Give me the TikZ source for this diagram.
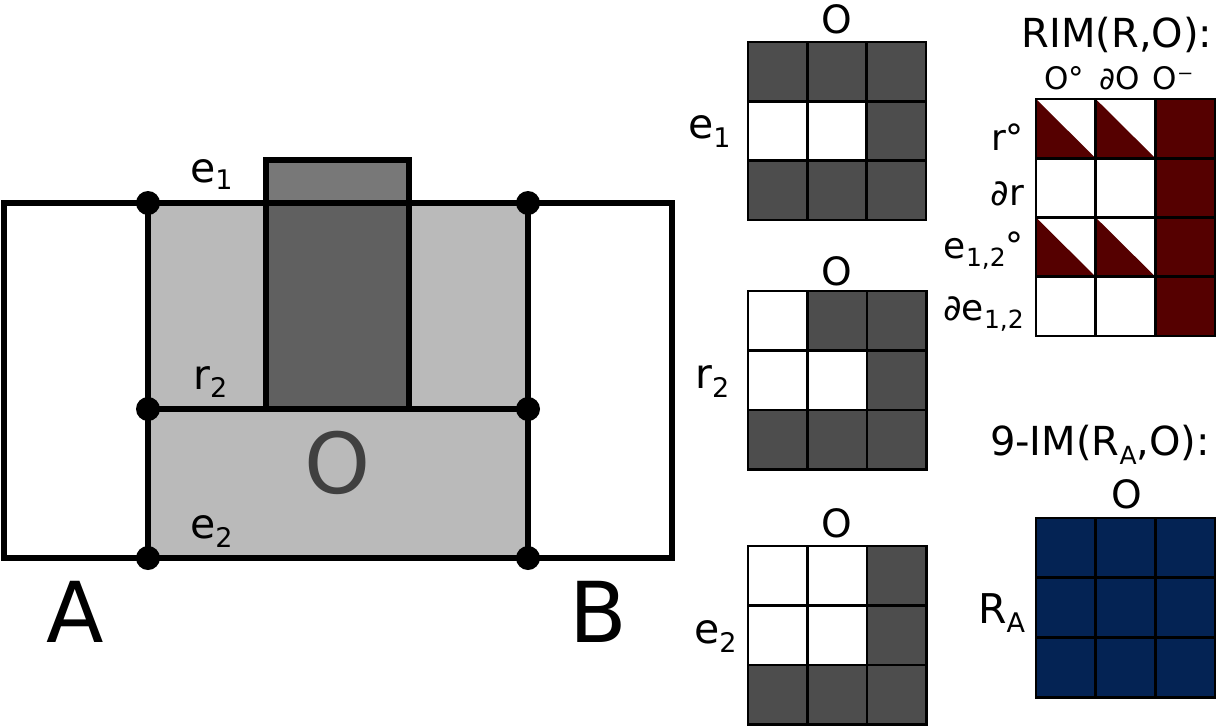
\documentclass[tikz,border=0pt]{standalone}
\usepackage{fontspec}
\setmainfont{DejaVu Sans}
\newcommand{\fsz}[1]{\fontsize{#1}{#1}\selectfont}
\newcommand{\sbx}[3]{\raisebox{-#2pt}{\fsz{#1}#3}}
\definecolor{lgray}{HTML}{BABABA}
\definecolor{dgray}{HTML}{606060}
\definecolor{mgray}{HTML}{787878}
\definecolor{cellgray}{HTML}{4D4D4D}
\definecolor{dred}{HTML}{550000}
\definecolor{dblue}{HTML}{042354}
\definecolor{ogray}{HTML}{404040}
\newcommand{\ninegrid}[4]{%
  \foreach \cc [count=\k from 0] in {#4} {
    \pgfmathsetmacro\cx{#1+mod(\k,3)*#3}
    \pgfmathsetmacro\cy{#2+int(\k/3)*#3}
    \fill[\cc] (\cx,\cy) rectangle ++(#3,#3);
  }
  \foreach \t in {0,1,2,3} {
    \draw[gridline] (#1+\t*#3,#2) -- ++(0,3*#3);
    \draw[gridline] (#1,#2+\t*#3) -- ++(3*#3,0);
  }
}
\begin{document}
\begin{tikzpicture}[x=1pt,y=-1pt,
  thickline/.style={line width=5.5pt},
  gridline/.style={line width=2.8pt,line cap=rect},
  dotnode/.style={circle,fill=black,inner sep=0pt,minimum size=24pt},
  lbl/.style={inner sep=0pt,anchor=base west,font={\fsz{41}}},
  rowlbl/.style={inner sep=0pt,anchor=base east,font={\fsz{36}}},
  hdr/.style={inner sep=0pt,anchor=base,font={\fsz{31}}},
  otop/.style={inner sep=0pt,anchor=base,font={\fsz{39}}},
  title/.style={inner sep=0pt,anchor=base,font={\fsz{40}}},
  big/.style={inner sep=0pt,font={\fsz{84}}}]
\useasboundingbox (0,0) rectangle (1216,726);
% ---------- left diagram ----------
\fill[lgray] (148,203) rectangle (528,558);
\fill[dgray] (266,203) rectangle (409,409);
\fill[mgray] (266,160) rectangle (409,203);
\coordinate (oa) at (4,203);
\coordinate (od) at (672,558);
\node[dotnode] (tl) at (148,203) {};
\node[dotnode] (tr) at (528,203) {};
\node[dotnode] (ml) at (148,409) {};
\node[dotnode] (mr) at (528,409) {};
\node[dotnode] (bl) at (148,558) {};
\node[dotnode] (br) at (528,558) {};
\draw[thickline] (oa) rectangle (od);
\draw[thickline] (tl.center) -- (bl.center);
\draw[thickline] (tr.center) -- (br.center);
\draw[thickline] (ml.center) -- (mr.center);
\draw[thickline] (266,160) rectangle (409,409);
\node[lbl] (le1) at (190,182) {e\sbx{27}{7}{1}};
\node[lbl] (lr2) at (193,389) {r\sbx{27}{8}{2}};
\node[lbl] (le2) at (190,538) {e\sbx{27}{9}{2}};
\node[big,text=ogray] (bigO) at (338,463) {O};
\node[big] (lA) at (75,612) {A};
\node[big] (lB) at (598,612) {B};
% ---------- middle grids ----------
\ninegrid{748}{42}{59.3}{cellgray,cellgray,cellgray,white,white,cellgray,cellgray,cellgray,cellgray}
\ninegrid{748}{291}{59.5}{white,cellgray,cellgray,white,white,cellgray,cellgray,cellgray,cellgray}
\ninegrid{748}{546}{59.5}{white,white,cellgray,white,white,cellgray,cellgray,cellgray,cellgray}
\node[otop] (o1) at (837,33) {O};
\node[otop] (o2) at (837,285) {O};
\node[otop] (o3) at (837,537) {O};
\node[lbl] (ge1) at (688,138) {e\sbx{27}{9}{1}};
\node[lbl] (gr2) at (695,388) {r\sbx{27}{9}{2}};
\node[lbl] (ge2) at (694,643) {e\sbx{27}{9}{2}};
% ---------- RIM matrix ----------
\fill[dred] (1155.4,99) rectangle (1215,336);
\foreach \c/\r in {0/0,1/0,0/2,1/2} {
  \fill[dred] (1036+\c*59.7,99+\r*59.25) -- (1036+\c*59.7,99+\r*59.25+59.25) -- (1036+\c*59.7+59.7,99+\r*59.25+59.25) -- cycle;
}
\foreach \t in {0,1,2,3} {
  \draw[gridline] (1036+\t*59.7,99) -- (1036+\t*59.7,336);
}
\foreach \t in {0,1,2,3,4} {
  \draw[gridline] (1036,99+\t*59.25) -- (1215,99+\t*59.25);
}
\node[title] (rimt) at (1117,47) {RIM(R,O):};
\node[hdr] (h1) at (1064,89) {O°};
\node[hdr] (h2) at (1120,89) {∂O};
\node[hdr] (h3) at (1173,89) {O⁻};
\node[rowlbl] (r1) at (1024,150) {r°};
\node[rowlbl] (r2) at (1024,205) {∂r};
\node[rowlbl] (r3) at (1024,258) {e\sbx{25}{8}{1,2}°};
\node[rowlbl] (r4) at (1024,320) {∂e\sbx{25}{8}{1,2}};
% ---------- 9-IM matrix ----------
\ninegrid{1036}{518}{59.7}{dblue,dblue,dblue,dblue,dblue,dblue,dblue,dblue,dblue}
\node[title] (nimt) at (1100,455) {9-IM(R\sbx{25}{9}{A},O):};
\node[otop] (o4) at (1127,508) {O};
\node[lbl] (ra) at (978,623) {R\sbx{27}{9}{A}};
\end{tikzpicture}
\end{document}
